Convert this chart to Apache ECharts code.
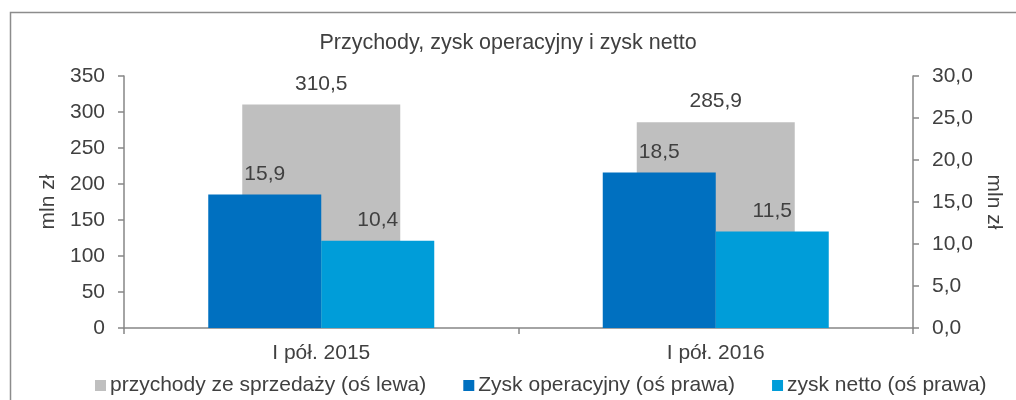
<!DOCTYPE html>
<html>
<head>
<meta charset="utf-8">
<script src="https://cdn.jsdelivr.net/npm/echarts@6/dist/echarts.min.js"></script>
<style>
html,body{margin:0;padding:0;background:#fff;}
#chart{width:1016px;height:400px;}
</style>
</head>
<body>
<div id="chart"></div>
<script>
const categories = ['I pół. 2015', 'I pół. 2016'];
const revenue = [310.5, 285.9];
const operatingProfit = [15.9, 18.5];
const netProfit = [10.4, 11.5];
const seriesNames = ['przychody ze sprzedaży (oś lewa)', 'Zysk operacyjny (oś prawa)', 'zysk netto (oś prawa)'];
const titleText = 'Przychody, zysk operacyjny i zysk netto';
const axisName = 'mln zł';

const FONT = 'Liberation Sans, Arial, sans-serif';
const TXT = '#404040';
const AX = '#868686';
const comma1 = v => Number(v).toFixed(1).replace('.', ',');

const chart = echarts.init(document.getElementById('chart'), null, {renderer: 'canvas'});
chart.setOption({
  animation: false,
  textStyle: {fontFamily: FONT, color: TXT},
  graphic: [{
    type: 'rect', left: 8, top: 10, silent: true, z: -10,
    shape: {x: 0, y: 0, width: 1100, height: 500},
    style: {fill: 'none', stroke: '#8c8c8c', lineWidth: 1.5}
  }],
  title: {
    text: titleText, left: 'center', top: 27,
    textStyle: {fontFamily: FONT, fontSize: 21.5, fontWeight: 'normal', color: TXT}
  },
  legend: {
    left: 90, top: 370, itemWidth: 11, itemHeight: 11, itemGap: 37, icon: 'rect',
    textStyle: {fontFamily: FONT, fontSize: 21, color: TXT, padding: [0, 0, 0, -1]},
    data: seriesNames
  },
  grid: {left: 124, right: 103, top: 76, bottom: 72},
  xAxis: [{
    type: 'category', data: categories,
    axisLine: {lineStyle: {color: AX, width: 1.5}},
    axisTick: {show: true, length: 6, lineStyle: {color: AX, width: 1.5}},
    axisLabel: {fontFamily: FONT, fontSize: 21, color: TXT, margin: 15}
  }, {
    type: 'category', data: categories, show: false
  }],
  yAxis: [{
    type: 'value', min: 0, max: 350, interval: 50, position: 'left',
    name: axisName, nameLocation: 'middle', nameGap: 63, nameRotate: 90,
    nameTextStyle: {fontFamily: FONT, fontSize: 21, color: TXT},
    axisLine: {show: true, lineStyle: {color: AX, width: 1.5}},
    axisTick: {show: true, length: 6, lineStyle: {color: AX, width: 1.5}},
    splitLine: {show: false},
    axisLabel: {fontFamily: FONT, fontSize: 21, color: TXT, margin: 19}
  }, {
    type: 'value', min: 0, max: 30, interval: 5, position: 'right',
    name: axisName, nameLocation: 'middle', nameGap: 70, nameRotate: -90,
    nameTextStyle: {fontFamily: FONT, fontSize: 21, color: TXT},
    axisLine: {show: true, lineStyle: {color: AX, width: 1.5}},
    axisTick: {show: true, length: 6, lineStyle: {color: AX, width: 1.5}},
    splitLine: {show: false},
    axisLabel: {fontFamily: FONT, fontSize: 21, color: TXT, margin: 19, formatter: comma1}
  }],
  series: [{
    name: seriesNames[0], type: 'bar', xAxisIndex: 1, yAxisIndex: 0,
    data: revenue, barWidth: 158, z: 1,
    itemStyle: {color: '#BFBFBF'},
    label: {show: true, position: 'top', distance: 10, fontFamily: FONT, fontSize: 21, color: TXT, formatter: p => comma1(p.value)}
  }, {
    name: seriesNames[1], type: 'bar', xAxisIndex: 0, yAxisIndex: 1,
    data: operatingProfit, barWidth: 113, barGap: '0%', z: 2,
    itemStyle: {color: '#0070C0'},
    label: {show: true, position: 'top', distance: 10, fontFamily: FONT, fontSize: 21, color: TXT, formatter: p => comma1(p.value)}
  }, {
    name: seriesNames[2], type: 'bar', xAxisIndex: 0, yAxisIndex: 1,
    data: netProfit, barWidth: 113, barGap: '0%', z: 2,
    itemStyle: {color: '#009DD9'},
    label: {show: true, position: 'top', distance: 10, fontFamily: FONT, fontSize: 21, color: TXT, formatter: p => comma1(p.value)}
  }]
});
</script>
</body>
</html>
